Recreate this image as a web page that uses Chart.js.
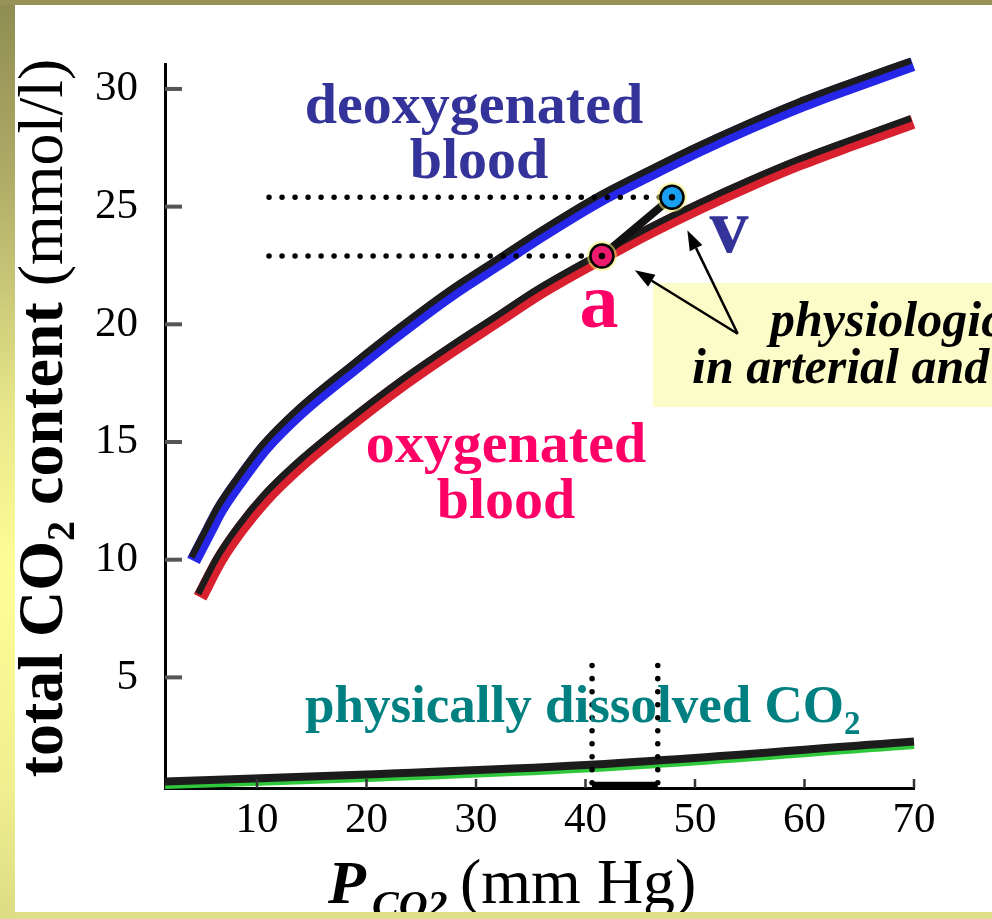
<!DOCTYPE html>
<html>
<head>
<meta charset="utf-8">
<script src="https://cdn.jsdelivr.net/npm/chart.js@4.4.1/dist/chart.umd.min.js"></script>
<style>
  html, body { margin: 0; padding: 0; background: #fff; }
  canvas { display: block; }
</style>
</head>
<body>
<canvas id="myChart" width="992" height="919"></canvas>
<script>
// CO2 dissociation curves: total CO2 content of blood vs PCO2

// axis tick labels
const xTicks = [10, 20, 30, 40, 50, 60, 70];   // PCO2, mm Hg
const yTicks = [5, 10, 15, 20, 25, 30];        // mmol/l

// deoxygenated blood (blue curve)
const pco2Deoxy = [4.2, 5.7, 6.6, 8.5, 10.7, 13.9, 19.0, 23.1, 27.6, 32.2, 35.8, 41.3, 45.9, 50.5, 55.0, 59.6, 64.2, 69.9];
const co2Deoxy  = [9.95, 11.3, 12.1, 13.4, 14.75, 16.25, 18.2, 19.7, 21.25, 22.65, 23.75, 25.3, 26.4, 27.45, 28.4, 29.3, 30.1, 31.05];

// oxygenated blood (red curve)
const pco2Oxy = [4.8, 6.6, 8.5, 10.7, 13.9, 19.0, 23.1, 27.6, 32.2, 35.8, 41.3, 45.9, 50.5, 55.0, 59.6, 64.2, 69.9];
const co2Oxy  = [8.4, 10.0, 11.3, 12.55, 14.0, 15.95, 17.4, 18.85, 20.25, 21.35, 22.8, 23.95, 25.0, 25.95, 26.85, 27.65, 28.6];

// physically dissolved CO2 (green line)
const pco2Dissolved = [1.6, 20, 40, 70];
const co2Dissolved  = [0.45, 0.75, 1.15, 2.15];

// arterial (a) and venous (v) points
const pointPco2 = [41.5, 47.9];
const pointCo2  = [22.9, 25.4];

// dotted guides
const guideStartPco2 = 11.1;      // left end of the horizontal guides
const rangePco2 = [40.6, 46.6];   // vertical guides / bar on the x axis
const guideTopCo2 = 5.5;
const axisCo2 = 0.4;

const xy = (xs, ys) => xs.map((x, i) => ({x: x, y: ys[i]}));

const blue = '#2626e8', red = '#d8202e', green = '#2fc83a';
const serif = '"Liberation Serif", "Times New Roman", serif';

// draws a black copy of a line slightly up-left of the coloured one
const shiftPlugin = {
    id: 'shift',
    beforeDatasetDraw(chart, args) {
        const s = chart.data.datasets[args.index].shift;
        if (s) { chart.ctx.save(); chart.ctx.translate(s[0], s[1]); }
    },
    afterDatasetDraw(chart, args) {
        if (chart.data.datasets[args.index].shift) chart.ctx.restore();
    }
};

function drawRuns(ctx, x, y, runs) {
    let cx = x;
    runs.forEach(r => {
        ctx.font = r.font;
        ctx.fillText(r.text, cx, y + (r.dy || 0));
        cx += ctx.measureText(r.text).width;
    });
    return cx;
}
function runsWidth(ctx, runs) {
    let w = 0;
    runs.forEach(r => { ctx.font = r.font; w += ctx.measureText(r.text).width; });
    return w;
}
function arrow(ctx, x0, y0, x1, y1) {
    const ang = Math.atan2(y1 - y0, x1 - x0);
    const head = 20, half = 7;
    const bx = x1 - head * Math.cos(ang), by = y1 - head * Math.sin(ang);
    ctx.beginPath(); ctx.moveTo(x0, y0); ctx.lineTo(bx, by); ctx.stroke();
    ctx.beginPath(); ctx.moveTo(x1, y1);
    ctx.lineTo(bx + half * Math.sin(ang), by - half * Math.cos(ang));
    ctx.lineTo(bx - half * Math.sin(ang), by + half * Math.cos(ang));
    ctx.closePath(); ctx.fill();
}

const decorPlugin = {
    id: 'decor',
    beforeDraw(chart) {
        const ctx = chart.ctx;
        ctx.save();
        ctx.fillStyle = '#fff';
        ctx.fillRect(0, 0, chart.width, chart.height);
        ctx.restore();
    },
    beforeDatasetsDraw(chart) {
        const ctx = chart.ctx;
        ctx.save();
        ctx.fillStyle = '#fcfcc8';           // note box
        ctx.fillRect(653, 283, 340, 124);
        ctx.restore();
    },
    afterDraw(chart) {
        const ctx = chart.ctx, area = chart.chartArea;
        const xs = chart.scales.x, ys = chart.scales.y;
        ctx.save();

        // tick marks inside the plot
        ctx.strokeStyle = '#555';
        ctx.lineWidth = 4;
        yTicks.forEach(v => {
            const y = ys.getPixelForValue(v);
            ctx.beginPath(); ctx.moveTo(area.left, y); ctx.lineTo(area.left + 17, y); ctx.stroke();
        });
        ctx.strokeStyle = '#333';
        ctx.lineWidth = 2.5;
        xTicks.forEach(v => {
            const x = xs.getPixelForValue(v);
            ctx.beginPath(); ctx.moveTo(x, area.bottom); ctx.lineTo(x, area.bottom - 9); ctx.stroke();
        });

        // curve labels
        ctx.textAlign = 'center';
        ctx.textBaseline = 'alphabetic';
        ctx.font = 'bold 58px ' + serif;
        ctx.fillStyle = '#333399';
        ctx.fillText('deoxygenated', 474, 123);
        ctx.fillText('blood', 479, 178);
        ctx.fillStyle = '#ff0066';
        ctx.fillText('oxygenated', 506, 462);
        ctx.fillText('blood', 506, 518);
        ctx.font = 'bold 78px ' + serif;
        ctx.fillText('a', 599, 327);
        ctx.fillStyle = '#333399';
        ctx.fillText('v', 729, 252);

        ctx.textAlign = 'left';
        ctx.fillStyle = '#008080';
        drawRuns(ctx, 305, 722, [
            {text: 'physically dissolved CO', font: 'bold 53px ' + serif},
            {text: '2', font: 'bold 33px ' + serif, dy: 12}
        ]);

        // note in the yellow box
        ctx.fillStyle = '#000';
        ctx.font = 'italic bold 50px ' + serif;
        ctx.fillText('physiological difference', 770, 336);
        ctx.fillText('in arterial and venous blood', 692, 383);

        // arrows from the note to a and v
        ctx.strokeStyle = '#000';
        ctx.lineWidth = 2.5;
        const bx = xs.getPixelForValue(53.9), by = ys.getPixelForValue(19.6);
        arrow(ctx, bx, by, xs.getPixelForValue(44.5), ys.getPixelForValue(22.3));
        arrow(ctx, bx, by, xs.getPixelForValue(49.3), ys.getPixelForValue(24.0));

        // axis titles
        ctx.fillStyle = '#000';
        const yRuns = [
            {text: 'total CO', font: 'bold 64px ' + serif},
            {text: '2', font: 'bold 40px ' + serif, dy: 12},
            {text: ' content ', font: 'bold 64px ' + serif},
            {text: '(mmol/l)', font: '64px ' + serif}
        ];
        ctx.save();
        ctx.translate(62, 418);
        ctx.rotate(-Math.PI / 2);
        drawRuns(ctx, -runsWidth(ctx, yRuns) / 2, 0, yRuns);
        ctx.restore();

        ctx.font = 'italic bold 62px ' + serif;
        ctx.fillText('P', 328, 903);
        ctx.font = 'italic bold 40px ' + serif;
        ctx.fillText('CO2', 372, 918);
        ctx.font = '64px ' + serif;
        ctx.fillText('(mm Hg)', 460, 903);

        // page frame
        const g = ctx.createLinearGradient(0, 0, 0, chart.height);
        g.addColorStop(0, '#8f8c52');
        g.addColorStop(0.2, '#b0ad68');
        g.addColorStop(0.45, '#e8e88a');
        g.addColorStop(0.62, '#fdfd98');
        g.addColorStop(0.85, '#f0f090');
        g.addColorStop(1, '#dcdc84');
        ctx.fillStyle = g;
        ctx.fillRect(0, 0, 15, chart.height);
        ctx.fillStyle = '#969258';
        ctx.fillRect(0, 0, chart.width, 5);
        ctx.fillStyle = '#dede88';
        ctx.fillRect(15, 912, chart.width, 7);
        ctx.restore();
    }
};

const lineBase = {showLine: true, pointRadius: 0, cubicInterpolationMode: 'monotone', clip: false, borderCapStyle: 'butt'};
const dotted = {showLine: true, pointRadius: 0, borderColor: '#000', borderWidth: 5.5,
    borderDash: [0.01, 13], borderCapStyle: 'round', clip: false, order: 2};

const ctx = document.getElementById('myChart');
const myChart = new Chart(ctx, {
    type: 'scatter',
    data: {
        datasets: [
            // a / v markers with centre dots and a yellow glow
            {data: xy(pointPco2, pointCo2), pointRadius: 3.2, pointBackgroundColor: '#000',
             pointBorderWidth: 0, order: 0, clip: false},
            {data: xy(pointPco2, pointCo2), pointRadius: 11.5,
             pointBackgroundColor: ['#ee1a6e', '#1aa0f0'], pointBorderColor: '#000',
             pointBorderWidth: 2.5, order: 1, clip: false},
            {data: xy(pointPco2, pointCo2), pointRadius: 15, pointBackgroundColor: 'rgba(246,240,110,0.55)',
             pointBorderWidth: 0, order: 1.5, clip: false},
            // a -> v link
            {data: xy(pointPco2, pointCo2), showLine: true, pointRadius: 0, borderColor: '#111',
             borderWidth: 8, order: 3, clip: false},
            // dotted guides
            Object.assign({data: xy([guideStartPco2, pointPco2[1]], [pointCo2[1], pointCo2[1]])}, dotted),
            Object.assign({data: xy([guideStartPco2, pointPco2[0]], [pointCo2[0], pointCo2[0]])}, dotted),
            Object.assign({data: xy([rangePco2[0], rangePco2[0]], [guideTopCo2, axisCo2])}, dotted),
            Object.assign({data: xy([rangePco2[1], rangePco2[1]], [guideTopCo2, axisCo2])}, dotted),
            // bar on the x axis
            {data: xy(rangePco2, [axisCo2, axisCo2]), showLine: true, pointRadius: 0,
             borderColor: '#000', borderWidth: 8, order: 2, clip: false},
            // black edges of the curves
            Object.assign({data: xy(pco2Deoxy, co2Deoxy), borderColor: '#1c1c1c', borderWidth: 6.5, shift: [-2, -3.5], order: 4}, lineBase),
            Object.assign({data: xy(pco2Oxy, co2Oxy), borderColor: '#1c1c1c', borderWidth: 6.5, shift: [-2, -3.5], order: 4}, lineBase),
            Object.assign({data: xy(pco2Dissolved, co2Dissolved), borderColor: '#1c1c1c', borderWidth: 8, shift: [0, -3], order: 4}, lineBase),
            // coloured curves
            Object.assign({data: xy(pco2Deoxy, co2Deoxy), borderColor: blue, borderWidth: 14, order: 5}, lineBase),
            Object.assign({data: xy(pco2Oxy, co2Oxy), borderColor: red, borderWidth: 14, order: 5}, lineBase),
            Object.assign({data: xy(pco2Dissolved, co2Dissolved), borderColor: green, borderWidth: 9, order: 5}, lineBase)
        ]
    },
    options: {
        responsive: false,
        animation: false,
        devicePixelRatio: 1,
        events: [],
        layout: {padding: {top: 64, right: 78, bottom: 0, left: 0}},
        scales: {
            x: {
                type: 'linear', min: 1.6, max: 70,
                afterBuildTicks: s => { s.ticks = xTicks.map(v => ({value: v})); },
                afterFit: s => { s.height = 131; },
                grid: {display: false, drawTicks: false},
                border: {display: true, color: '#000', width: 3},
                ticks: {color: '#000', font: {family: serif, size: 43}, padding: 7, maxRotation: 0, autoSkip: false}
            },
            y: {
                type: 'linear', min: 0.3, max: 31.06,
                afterBuildTicks: s => { s.ticks = yTicks.map(v => ({value: v})); },
                afterFit: s => { s.width = 165; },
                grid: {display: false, drawTicks: false},
                border: {display: true, color: '#000', width: 3},
                ticks: {color: '#000', font: {family: serif, size: 43}, padding: 27}
            }
        },
        plugins: {
            legend: {display: false},
            tooltip: {enabled: false},
            title: {display: false}
        }
    },
    plugins: [shiftPlugin, decorPlugin]
});
</script>
</body>
</html>
